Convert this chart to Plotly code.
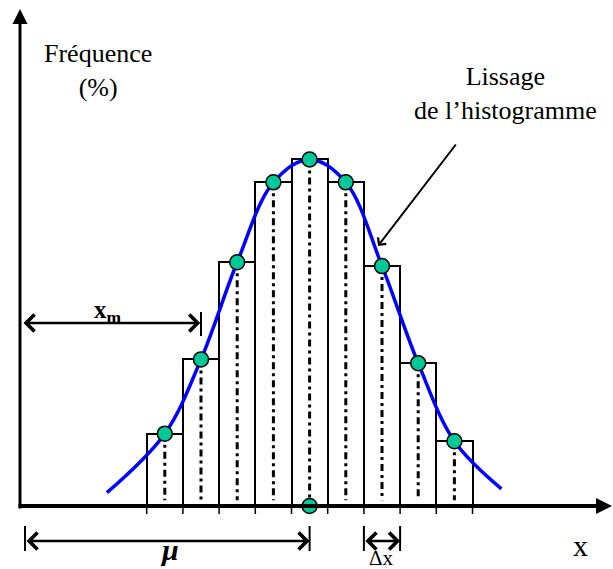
import plotly.graph_objects as go

# ---------------- data ----------------
class_centers = [4, 5, 6, 7, 8, 9, 10, 11, 12]           # class centres (Δx = 1)
frequencies = [3.8, 7.7, 12.8, 17.0, 18.2, 17.0, 12.6, 7.5, 3.4]  # %
bin_width = 1.0
mu = 8          # mean
x_m = 5         # x_m marker
curve_x = [2.4, 4, 5, 6, 7, 8, 9, 10, 11, 12, 13.3]
curve_y = [0.7, 3.8, 7.7, 12.8, 17.0, 18.2, 17.0, 12.6, 7.5, 3.4, 0.9]

# ---------------- layout helpers (pixel -> data for label placement) ----------------
W, H = 613, 569
X0PX, XUNIT = 20.0, 36.2
Y0PX, YUNIT = 506.0, 19.04


def px2x(p):
    return (p - X0PX) / XUNIT


def px2y(p):
    return (Y0PX - p) / YUNIT


XR = [px2x(0), px2x(W)]
YR = [px2y(H), px2y(0)]

FONT = "Liberation Serif"
GREEN = "#00C896"

fig = go.Figure()

# histogram bars
fig.add_trace(go.Bar(
    x=class_centers, y=frequencies, width=bin_width,
    marker=dict(color="white", line=dict(color="black", width=2)),
    hoverinfo="skip"))

# dash-dot drop lines
dx, dy = [], []
for c, f in zip(class_centers, frequencies):
    dx += [c, c, None]
    dy += [f, 0.3, None]
fig.add_trace(go.Scatter(x=dx, y=dy, mode="lines",
                         line=dict(color="black", width=3, dash="7px,4px,3px,4px"),
                         hoverinfo="skip"))

# smoothing curve
fig.add_trace(go.Scatter(x=curve_x, y=curve_y, mode="lines",
                         line=dict(color="#0000FF", width=3.5, shape="spline", smoothing=1.0),
                         hoverinfo="skip"))

# class centre dots + mean dot
fig.add_trace(go.Scatter(x=class_centers + [mu], y=frequencies + [0], mode="markers",
                         marker=dict(size=15, color=GREEN, line=dict(color="black", width=1.5)),
                         hoverinfo="skip", cliponaxis=False))

shapes = []
# tick marks at bin edges below the axis
edges = [c - bin_width / 2 for c in class_centers] + [class_centers[-1] + bin_width / 2]
for e in edges:
    shapes.append(dict(type="line", x0=e, x1=e, y0=0, y1=px2y(514),
                       line=dict(color="black", width=1.5), layer="below"))

# dimension ticks
yxm = px2y(323)
shapes.append(dict(type="line", x0=x_m, x1=x_m, y0=px2y(312), y1=px2y(336),
                   line=dict(color="black", width=2)))
ymu = px2y(541)
for xx in [px2x(25), mu]:
    shapes.append(dict(type="line", x0=xx, x1=xx, y0=px2y(526), y1=px2y(551),
                       line=dict(color="black", width=2)))
d0 = class_centers[6] - bin_width / 2
d1 = class_centers[6] + bin_width / 2
for xx in [d0, d1]:
    shapes.append(dict(type="line", x0=xx, x1=xx, y0=px2y(526), y1=px2y(551),
                       line=dict(color="black", width=2)))

ann = []


def arrow(x, y, ax, ay, width=2, head=4, size=1.5, side="end"):
    return dict(x=x, y=y, ax=ax, ay=ay, xref="x", yref="y", axref="x", ayref="y",
                text="", showarrow=True, arrowhead=head, startarrowhead=head,
                arrowsize=size, startarrowsize=size, arrowwidth=width,
                arrowcolor="black", arrowside=side, standoff=0, startstandoff=0)


# axes with arrowheads
ann.append(arrow(px2x(612), 0, px2x(17), 0, width=4, head=2, size=0.8))
ann.append(arrow(0, px2y(9), 0, px2y(510), width=3, head=2, size=1.0))

# x_m, mu, Δx dimension arrows
ann.append(arrow(x_m - 0.02, yxm, px2x(22), yxm, width=2.5, head=4, size=1.3, side="end+start"))
ann.append(arrow(mu, ymu, px2x(25), ymu, width=2.5, head=4, size=1.3, side="end+start"))
ann.append(arrow(d1, ymu, d0, ymu, width=2.5, head=4, size=1.3, side="end+start"))

# pointer to the smoothing curve
ann.append(arrow(px2x(378), px2y(246), px2x(457), px2y(143), width=2, head=4, size=1.0))

# texts
def label(x, y, text, size, **kw):
    d = dict(x=x, y=y, xref="x", yref="y", text=text, showarrow=False,
             font=dict(family=FONT, size=size, color="black"),
             xanchor="center", yanchor="middle")
    d.update(kw)
    return d


ann.append(label(px2x(98), px2y(70), "Fréquence<br>(%)", 26))
ann.append(label(px2x(505), px2y(93), "Lissage<br>de l’histogramme", 26))
ann.append(label(px2x(108), px2y(311), "<b>x<sub>m</sub></b>", 25))
ann.append(label(px2x(169), px2y(549), "<b><i>μ</i></b>", 30))
ann.append(label(px2x(381), px2y(558), "Δx", 21))
ann.append(label(px2x(580), px2y(545), "x", 30))

fig.update_layout(
    width=W, height=H, margin=dict(l=0, r=0, t=0, b=0),
    paper_bgcolor="white", plot_bgcolor="white",
    showlegend=False, bargap=0, hovermode=False,
    xaxis=dict(range=XR, visible=False, fixedrange=True),
    yaxis=dict(range=YR, visible=False, fixedrange=True),
    shapes=shapes, annotations=ann,
)

fig.write_html("out.html", config={"displayModeBar": False},
               post_script="document.body.style.margin='0';")
